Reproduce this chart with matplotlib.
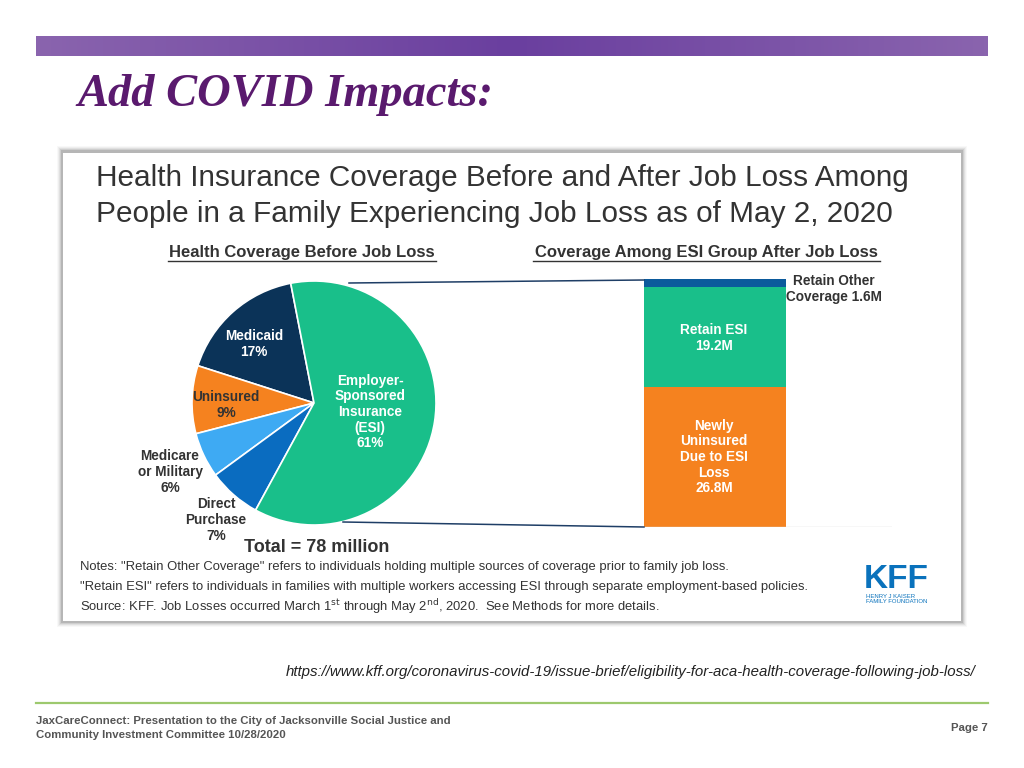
"""Slide: KFF health coverage before/after job loss (pie + stacked bar)."""
import numpy as np
import matplotlib
matplotlib.use("Agg")
import matplotlib.pyplot as plt
from matplotlib import font_manager
from matplotlib.patches import Rectangle

# ── data ──────────────────────────────────────────────────────────────────────
PIE_LABELS = ["Medicaid", "Uninsured", "Medicare\nor Military", "Direct\nPurchase",
              "Employer-\nSponsored\nInsurance\n(ESI)"]
PIE_PCT = [17, 9, 6, 7, 61]
PIE_COLORS = ["#0b3358", "#f5821f", "#3eaaf3", "#0a6cc0", "#19bf8a"]

BAR_LABELS = ["Newly\nUninsured\nDue to ESI\nLoss", "Retain ESI", "Retain Other\nCoverage"]
BAR_VALUES = [26.8, 19.2, 1.6]          # millions
BAR_COLORS = ["#f5821f", "#19bf8a", "#0b5a9c"]

TOTAL_M = 78

NOTES = [
    "Notes: \"Retain Other Coverage\" refers to individuals holding multiple sources of coverage prior to family job loss.",
    "\"Retain ESI\" refers to individuals in families with multiple workers accessing ESI through separate employment-based policies.",
    "Source: KFF. Job Losses occurred March 1$^{\\rm st}$ through May 2$^{\\rm nd}$, 2020.  See Methods for more details.",
]
URL = "https://www.kff.org/coronavirus-covid-19/issue-brief/eligibility-for-aca-health-coverage-following-job-loss/"

W, H = 1024, 768
DARK = "#333333"

names = {f.name for f in font_manager.fontManager.ttflist}
NARROW = "Liberation Sans Narrow" if "Liberation Sans Narrow" in names else None
SANS = "Liberation Sans"

plt.rcParams["font.family"] = [SANS, "DejaVu Sans"]


def fx(x):
    return x / W


def fy(y):
    return 1 - y / H


fig = plt.figure(figsize=(W / 100, H / 100), dpi=100)
fig.patch.set_facecolor("white")

# background layer in pixel coordinates (y down)
bg = fig.add_axes([0, 0, 1, 1], zorder=0)
bg.set_xlim(0, W)
bg.set_ylim(H, 0)
bg.axis("off")

# purple banner with a soft gradient
grad = np.concatenate([np.linspace(0, 1, 128), np.linspace(1, 0, 128)])[None, :]
cmap = matplotlib.colors.LinearSegmentedColormap.from_list("p", ["#8a64ae", "#6a3f9f"])
bg.imshow(grad, extent=(36, 988, 56, 36), cmap=cmap, aspect="auto", zorder=1)

bg.text(77, 106, "Add COVID Impacts:", fontsize=33.5, fontweight="bold", style="italic",
        family=["Liberation Serif", "DejaVu Serif"], color="#5a1a6e", va="baseline")

# card with shadow
for i, a in enumerate([0.05, 0.08, 0.12, 0.18, 0.3]):
    d = 5 - i
    bg.add_patch(Rectangle((62 - d, 151 - d), 900 + 2 * d, 471 + 2 * d,
                           facecolor="#808080", edgecolor="none", alpha=a, zorder=2))
bg.add_patch(Rectangle((63, 153), 898, 468, facecolor="white", edgecolor="none", zorder=3))

# green footer rule
bg.plot([36, 988], [703, 703], color="#9dc96e", lw=1.6, zorder=3)

# ── pie ───────────────────────────────────────────────────────────────────────
cx, cy, r = 314, 403, 122
pax = fig.add_axes([fx(cx - r), fy(cy + r), 2 * r / W, 2 * r / H], zorder=5)
pax.pie(PIE_PCT, colors=PIE_COLORS, startangle=101, counterclock=True,
        wedgeprops=dict(edgecolor="white", linewidth=1.2))
pax.set_xlim(-1, 1)
pax.set_ylim(-1, 1)
pax.axis("off")

# ── stacked bar ───────────────────────────────────────────────────────────────
bx0, bx1, by0, by1 = 520, 892, 527, 279
bax = fig.add_axes([fx(bx0), fy(by0), (bx1 - bx0) / W, (by0 - by1) / H], zorder=5)
bottom = 0
for v, c in zip(BAR_VALUES, BAR_COLORS):
    bax.bar(195, v, width=142, bottom=bottom, color=c, edgecolor="none")
    bottom += v
bax.plot([124, 372], [0, 0], color="#d9d9d9", lw=1)
bax.set_xlim(0, bx1 - bx0)
bax.set_ylim(0, sum(BAR_VALUES))
bax.axis("off")

# ── foreground text layer ─────────────────────────────────────────────────────
fg = fig.add_axes([0, 0, 1, 1], zorder=10)
fg.set_xlim(0, W)
fg.set_ylim(H, 0)
fg.axis("off")
fg.patch.set_alpha(0)

# connector lines from pie to bar
fg.plot([349, 644], [283, 280], color="#1f3e66", lw=1.1)
fg.plot([343, 644], [522, 527], color="#1f3e66", lw=1.1)

fg.text(96, 178, "Health Insurance Coverage Before and After Job Loss Among",
        fontsize=21.4, color=DARK, va="center")
fg.text(96, 214, "People in a Family Experiencing Job Loss as of May 2, 2020",
        fontsize=21.4, color=DARK, va="center")

for x0, x1, s in [(168, 436, "Health Coverage Before Job Loss"),
                  (533, 880, "Coverage Among ESI Group After Job Loss")]:
    fg.text((x0 + x1) / 2, 253, s, fontsize=12, fontweight="bold", color=DARK,
            ha="center", va="center")
    fg.plot([x0, x1], [261, 261], color=DARK, lw=1)

# pie labels
pie_pos = [(254, 344, "white"), (226, 405, DARK), (170, 472, DARK),
           (216, 520, DARK), (370, 412, "white")]
for (x, y, c), lab, p in zip(pie_pos, PIE_LABELS, PIE_PCT):
    fg.text(x, y, f"{lab}\n{p}%", fontsize=9.8, fontweight="bold", color=c,
            ha="center", va="center", linespacing=1.15)

fg.text(317, 548, f"Total = {TOTAL_M} million", fontsize=13, fontweight="bold",
        color=DARK, ha="center", va="center")

# bar labels
bar_pos = [(714, 457, "white"), (714, 338, "white"), (834, 289, DARK)]
for (x, y, c), lab, v in zip(bar_pos, BAR_LABELS, BAR_VALUES):
    txt = f"{lab}\n{v}M" if c == "white" else f"{lab} {v}M"
    fg.text(x, y, txt, fontsize=9.8, fontweight="bold", color=c,
            ha="center", va="center", linespacing=1.15)

# notes
nfam = [NARROW, SANS] if NARROW else [SANS]
nsize = 10.5 if NARROW else 9.4
for i, line in enumerate(NOTES):
    fg.text(80, 567 + 20 * i, line, fontsize=nsize, family=nfam, color=DARK, va="center")

# KFF logo
fg.text(896, 579, "KFF", fontsize=24, fontweight="bold", color="#0a72bc",
        ha="center", va="center", family=nfam)
fg.text(866, 599, "HENRY J KAISER\nFAMILY FOUNDATION", fontsize=4.3, color="#0a72bc",
        ha="left", va="center", linespacing=1.0)

# URL and footer
fsmall = 9.2 if NARROW else 8.2
fg.text(975, 672, URL, fontsize=12 if NARROW else 10.8, style="italic", family=nfam,
        color="#222222", ha="right", va="center")
fg.text(36, 728, "JaxCareConnect: Presentation to the City of Jacksonville Social Justice and\n"
        "Community Investment Committee 10/28/2020", fontsize=fsmall,
        fontweight="bold", family=nfam, color="#555555", va="center", linespacing=1.5)
fg.text(988, 728, "Page 7", fontsize=fsmall, fontweight="bold",
        family=nfam, color="#555555", ha="right", va="center")

fig.savefig("out.png", dpi=100)
